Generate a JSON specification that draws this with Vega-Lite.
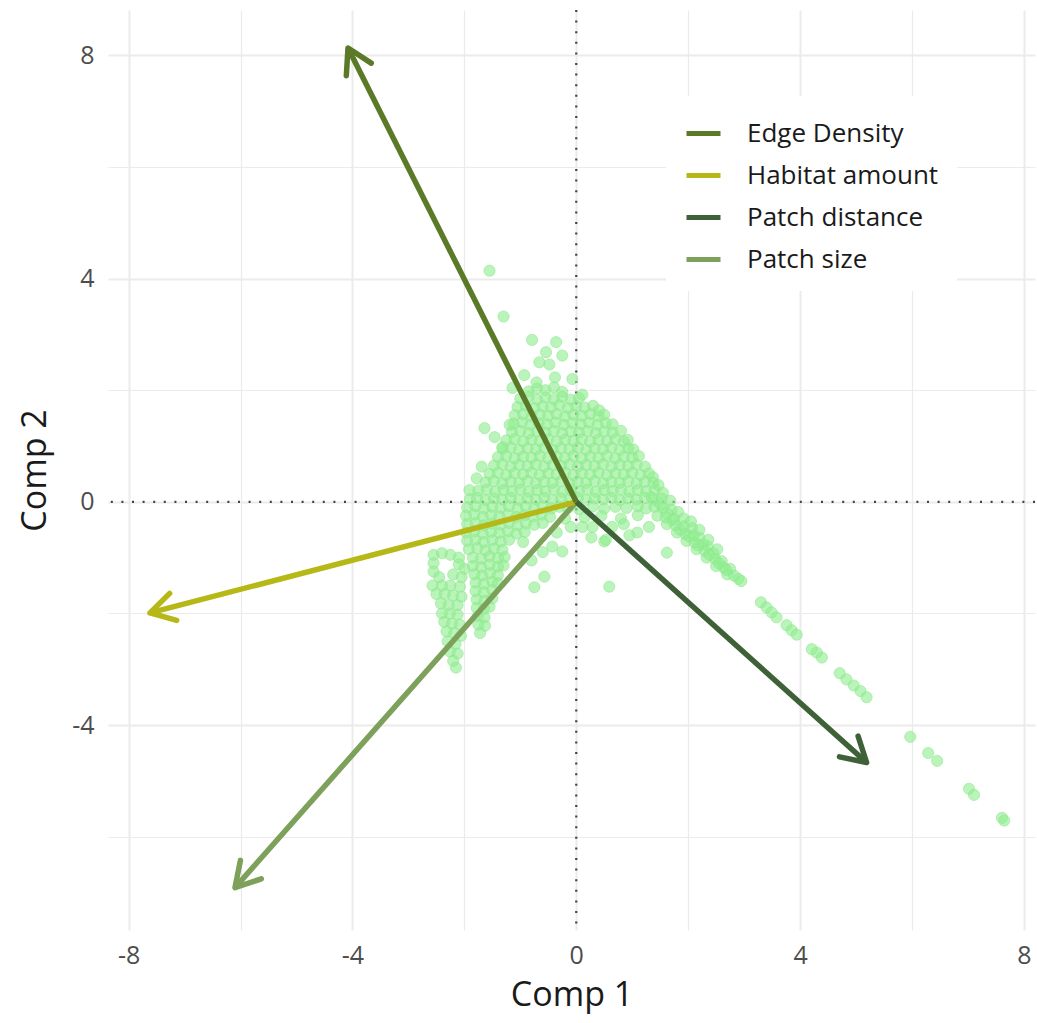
{
  "$schema": "https://vega.github.io/schema/vega-lite/v6.json",
  "autosize": "none",
  "width": 927,
  "height": 920,
  "padding": {"left": 108, "top": 10, "right": 2, "bottom": 93},
  "background": "white",
  "config": {
    "view": {"stroke": null},
    "font": "Open Sans"
  },
  "datasets": {
    "scores": [
      {"pc1":-0.85,"pc2":1.98},{"pc1":-0.7,"pc2":2.03},{"pc1":-0.55,"pc2":2.0},{"pc1":-0.4,"pc2":2.05},{"pc1":-0.25,"pc2":1.97},
      {"pc1":-1.0,"pc2":1.85},{"pc1":-0.85,"pc2":1.88},{"pc1":-0.7,"pc2":1.83},{"pc1":-0.55,"pc2":1.87},{"pc1":-0.4,"pc2":1.84},{"pc1":-0.25,"pc2":1.88},{"pc1":-0.1,"pc2":1.83},{"pc1":0.05,"pc2":1.86},
      {"pc1":-1.05,"pc2":1.7},{"pc1":-0.9,"pc2":1.72},{"pc1":-0.75,"pc2":1.68},{"pc1":-0.6,"pc2":1.71},{"pc1":-0.45,"pc2":1.69},{"pc1":-0.3,"pc2":1.73},{"pc1":-0.15,"pc2":1.68},{"pc1":0.0,"pc2":1.71},{"pc1":0.15,"pc2":1.69},{"pc1":0.3,"pc2":1.72},
      {"pc1":-1.1,"pc2":1.55},{"pc1":-0.95,"pc2":1.57},{"pc1":-0.8,"pc2":1.53},{"pc1":-0.65,"pc2":1.56},{"pc1":-0.5,"pc2":1.54},{"pc1":-0.35,"pc2":1.57},{"pc1":-0.2,"pc2":1.53},{"pc1":-0.05,"pc2":1.56},{"pc1":0.1,"pc2":1.54},{"pc1":0.25,"pc2":1.57},{"pc1":0.4,"pc2":1.53},{"pc1":0.5,"pc2":1.56},
      {"pc1":-1.12,"pc2":1.4},{"pc1":-0.97,"pc2":1.42},{"pc1":-0.82,"pc2":1.38},{"pc1":-0.67,"pc2":1.41},{"pc1":-0.52,"pc2":1.39},{"pc1":-0.37,"pc2":1.42},{"pc1":-0.22,"pc2":1.38},{"pc1":-0.07,"pc2":1.41},{"pc1":0.08,"pc2":1.39},{"pc1":0.23,"pc2":1.42},{"pc1":0.38,"pc2":1.38},{"pc1":0.53,"pc2":1.41},{"pc1":0.65,"pc2":1.39},
      {"pc1":-1.15,"pc2":1.25},{"pc1":-1.0,"pc2":1.27},{"pc1":-0.85,"pc2":1.23},{"pc1":-0.7,"pc2":1.26},{"pc1":-0.55,"pc2":1.24},{"pc1":-0.4,"pc2":1.27},{"pc1":-0.25,"pc2":1.23},{"pc1":-0.1,"pc2":1.26},{"pc1":0.05,"pc2":1.24},{"pc1":0.2,"pc2":1.27},{"pc1":0.35,"pc2":1.23},{"pc1":0.5,"pc2":1.26},{"pc1":0.65,"pc2":1.24},{"pc1":0.8,"pc2":1.27},
      {"pc1":-1.25,"pc2":1.1},{"pc1":-1.1,"pc2":1.12},{"pc1":-0.95,"pc2":1.08},{"pc1":-0.8,"pc2":1.11},{"pc1":-0.65,"pc2":1.09},{"pc1":-0.5,"pc2":1.12},{"pc1":-0.35,"pc2":1.08},{"pc1":-0.2,"pc2":1.11},{"pc1":-0.05,"pc2":1.09},{"pc1":0.1,"pc2":1.12},{"pc1":0.25,"pc2":1.08},{"pc1":0.4,"pc2":1.11},{"pc1":0.55,"pc2":1.09},{"pc1":0.7,"pc2":1.12},{"pc1":0.85,"pc2":1.08},{"pc1":0.92,"pc2":1.11},
      {"pc1":-1.32,"pc2":0.95},{"pc1":-1.17,"pc2":0.97},{"pc1":-1.02,"pc2":0.93},{"pc1":-0.87,"pc2":0.96},{"pc1":-0.72,"pc2":0.94},{"pc1":-0.57,"pc2":0.97},{"pc1":-0.42,"pc2":0.93},{"pc1":-0.27,"pc2":0.96},{"pc1":-0.12,"pc2":0.94},{"pc1":0.03,"pc2":0.97},{"pc1":0.18,"pc2":0.93},{"pc1":0.33,"pc2":0.96},{"pc1":0.48,"pc2":0.94},{"pc1":0.63,"pc2":0.97},{"pc1":0.78,"pc2":0.93},{"pc1":0.93,"pc2":0.96},{"pc1":1.02,"pc2":0.94},
      {"pc1":-1.4,"pc2":0.8},{"pc1":-1.25,"pc2":0.82},{"pc1":-1.1,"pc2":0.78},{"pc1":-0.95,"pc2":0.81},{"pc1":-0.8,"pc2":0.79},{"pc1":-0.65,"pc2":0.82},{"pc1":-0.5,"pc2":0.78},{"pc1":-0.35,"pc2":0.81},{"pc1":-0.2,"pc2":0.79},{"pc1":-0.05,"pc2":0.82},{"pc1":0.1,"pc2":0.78},{"pc1":0.25,"pc2":0.81},{"pc1":0.4,"pc2":0.79},{"pc1":0.55,"pc2":0.82},{"pc1":0.7,"pc2":0.78},{"pc1":0.85,"pc2":0.81},{"pc1":1.0,"pc2":0.79},{"pc1":1.12,"pc2":0.82},
      {"pc1":-1.47,"pc2":0.65},{"pc1":-1.32,"pc2":0.67},{"pc1":-1.17,"pc2":0.63},{"pc1":-1.02,"pc2":0.66},{"pc1":-0.87,"pc2":0.64},{"pc1":-0.72,"pc2":0.67},{"pc1":-0.57,"pc2":0.63},{"pc1":-0.42,"pc2":0.66},{"pc1":-0.27,"pc2":0.64},{"pc1":-0.12,"pc2":0.67},{"pc1":0.03,"pc2":0.63},{"pc1":0.18,"pc2":0.66},{"pc1":0.33,"pc2":0.64},{"pc1":0.48,"pc2":0.67},{"pc1":0.63,"pc2":0.63},{"pc1":0.78,"pc2":0.66},{"pc1":0.93,"pc2":0.64},{"pc1":1.08,"pc2":0.67},{"pc1":1.23,"pc2":0.63},
      {"pc1":-1.55,"pc2":0.5},{"pc1":-1.4,"pc2":0.52},{"pc1":-1.25,"pc2":0.48},{"pc1":-1.1,"pc2":0.51},{"pc1":-0.95,"pc2":0.49},{"pc1":-0.8,"pc2":0.52},{"pc1":-0.65,"pc2":0.48},{"pc1":-0.5,"pc2":0.51},{"pc1":-0.35,"pc2":0.49},{"pc1":-0.2,"pc2":0.52},{"pc1":-0.05,"pc2":0.48},{"pc1":0.1,"pc2":0.51},{"pc1":0.25,"pc2":0.49},{"pc1":0.4,"pc2":0.52},{"pc1":0.55,"pc2":0.48},{"pc1":0.7,"pc2":0.51},{"pc1":0.85,"pc2":0.49},{"pc1":1.0,"pc2":0.52},{"pc1":1.15,"pc2":0.48},{"pc1":1.3,"pc2":0.51},{"pc1":1.37,"pc2":0.44},
      {"pc1":-1.62,"pc2":0.35},{"pc1":-1.47,"pc2":0.37},{"pc1":-1.32,"pc2":0.33},{"pc1":-1.17,"pc2":0.36},{"pc1":-1.02,"pc2":0.34},{"pc1":-0.87,"pc2":0.37},{"pc1":-0.72,"pc2":0.33},{"pc1":-0.57,"pc2":0.36},{"pc1":-0.42,"pc2":0.34},{"pc1":-0.27,"pc2":0.37},{"pc1":-0.12,"pc2":0.33},{"pc1":0.03,"pc2":0.36},{"pc1":0.18,"pc2":0.34},{"pc1":0.33,"pc2":0.37},{"pc1":0.48,"pc2":0.33},{"pc1":0.63,"pc2":0.36},{"pc1":0.78,"pc2":0.34},{"pc1":0.93,"pc2":0.37},{"pc1":1.08,"pc2":0.33},{"pc1":1.23,"pc2":0.36},{"pc1":1.38,"pc2":0.34},{"pc1":1.47,"pc2":0.3},
      {"pc1":-1.75,"pc2":0.2},{"pc1":-1.6,"pc2":0.22},{"pc1":-1.45,"pc2":0.18},{"pc1":-1.3,"pc2":0.21},{"pc1":-1.15,"pc2":0.19},{"pc1":-1.0,"pc2":0.22},{"pc1":-0.85,"pc2":0.18},{"pc1":-0.7,"pc2":0.21},{"pc1":-0.55,"pc2":0.19},{"pc1":-0.4,"pc2":0.22},{"pc1":-0.25,"pc2":0.18},{"pc1":-0.1,"pc2":0.21},{"pc1":0.05,"pc2":0.19},{"pc1":0.2,"pc2":0.22},{"pc1":0.35,"pc2":0.18},{"pc1":0.5,"pc2":0.21},{"pc1":0.65,"pc2":0.19},{"pc1":0.8,"pc2":0.22},{"pc1":0.95,"pc2":0.18},{"pc1":1.1,"pc2":0.21},{"pc1":1.25,"pc2":0.19},{"pc1":1.4,"pc2":0.22},{"pc1":1.55,"pc2":0.16},
      {"pc1":-1.9,"pc2":0.05},{"pc1":-1.77,"pc2":0.07},{"pc1":-1.62,"pc2":0.03},{"pc1":-1.47,"pc2":0.06},{"pc1":-1.32,"pc2":0.04},{"pc1":-1.17,"pc2":0.07},{"pc1":-1.02,"pc2":0.03},{"pc1":-0.87,"pc2":0.06},{"pc1":-0.72,"pc2":0.04},{"pc1":-0.57,"pc2":0.07},{"pc1":-0.42,"pc2":0.03},{"pc1":-0.27,"pc2":0.06},{"pc1":-0.12,"pc2":0.04},{"pc1":0.03,"pc2":0.07},{"pc1":0.18,"pc2":0.03},{"pc1":0.33,"pc2":0.06},{"pc1":0.48,"pc2":0.04},{"pc1":0.63,"pc2":0.07},{"pc1":0.78,"pc2":0.03},{"pc1":0.93,"pc2":0.06},{"pc1":1.08,"pc2":0.04},{"pc1":1.23,"pc2":0.07},{"pc1":1.38,"pc2":0.03},{"pc1":1.53,"pc2":0.06},{"pc1":1.68,"pc2":0.02},
      {"pc1":-1.95,"pc2":-0.1},{"pc1":-1.8,"pc2":-0.08},{"pc1":-1.65,"pc2":-0.12},{"pc1":-1.5,"pc2":-0.09},{"pc1":-1.35,"pc2":-0.11},{"pc1":-1.2,"pc2":-0.08},{"pc1":-1.05,"pc2":-0.12},{"pc1":-0.9,"pc2":-0.09},{"pc1":-0.75,"pc2":-0.11},{"pc1":-0.6,"pc2":-0.08},{"pc1":-0.45,"pc2":-0.12},{"pc1":-0.3,"pc2":-0.09},{"pc1":-0.15,"pc2":-0.11},{"pc1":0.05,"pc2":-0.13},{"pc1":0.3,"pc2":-0.08},{"pc1":0.5,"pc2":-0.12},{"pc1":0.7,"pc2":-0.09},{"pc1":0.9,"pc2":-0.11},{"pc1":1.1,"pc2":-0.08},{"pc1":1.25,"pc2":-0.12},{"pc1":1.4,"pc2":-0.09},{"pc1":1.55,"pc2":-0.11},{"pc1":1.7,"pc2":-0.14},{"pc1":1.82,"pc2":-0.18},
      {"pc1":-1.97,"pc2":-0.25},{"pc1":-1.82,"pc2":-0.23},{"pc1":-1.67,"pc2":-0.27},{"pc1":-1.52,"pc2":-0.24},{"pc1":-1.37,"pc2":-0.26},{"pc1":-1.22,"pc2":-0.23},{"pc1":-1.07,"pc2":-0.27},{"pc1":-0.92,"pc2":-0.24},{"pc1":-0.77,"pc2":-0.26},{"pc1":-0.62,"pc2":-0.23},{"pc1":-0.47,"pc2":-0.27},{"pc1":-0.2,"pc2":-0.3},{"pc1":0.15,"pc2":-0.28},{"pc1":0.45,"pc2":-0.25},{"pc1":0.8,"pc2":-0.3},{"pc1":1.1,"pc2":-0.24},{"pc1":1.45,"pc2":-0.25},{"pc1":1.6,"pc2":-0.28},{"pc1":1.75,"pc2":-0.3},{"pc1":1.92,"pc2":-0.3},
      {"pc1":-1.95,"pc2":-0.4},{"pc1":-1.8,"pc2":-0.38},{"pc1":-1.65,"pc2":-0.42},{"pc1":-1.5,"pc2":-0.39},{"pc1":-1.35,"pc2":-0.41},{"pc1":-1.2,"pc2":-0.38},{"pc1":-1.05,"pc2":-0.42},{"pc1":-0.9,"pc2":-0.39},{"pc1":-0.75,"pc2":-0.41},{"pc1":-0.6,"pc2":-0.38},{"pc1":1.62,"pc2":-0.4},{"pc1":1.77,"pc2":-0.42},{"pc1":1.92,"pc2":-0.44},{"pc1":2.07,"pc2":-0.47},
      {"pc1":-1.97,"pc2":-0.55},{"pc1":-1.82,"pc2":-0.53},{"pc1":-1.67,"pc2":-0.57},{"pc1":-1.52,"pc2":-0.54},{"pc1":-1.37,"pc2":-0.56},{"pc1":-1.22,"pc2":-0.53},{"pc1":-1.07,"pc2":-0.57},{"pc1":-0.92,"pc2":-0.54},{"pc1":1.8,"pc2":-0.55},{"pc1":1.95,"pc2":-0.58},{"pc1":2.1,"pc2":-0.6},{"pc1":2.2,"pc2":-0.64},
      {"pc1":-1.95,"pc2":-0.7},{"pc1":-1.8,"pc2":-0.68},{"pc1":-1.65,"pc2":-0.72},{"pc1":-1.5,"pc2":-0.69},{"pc1":-1.35,"pc2":-0.71},{"pc1":-1.2,"pc2":-0.68},{"pc1":-0.95,"pc2":-0.72},{"pc1":1.97,"pc2":-0.7},{"pc1":2.12,"pc2":-0.73},{"pc1":2.27,"pc2":-0.76},{"pc1":2.35,"pc2":-0.8},
      {"pc1":-1.92,"pc2":-0.85},{"pc1":-1.77,"pc2":-0.83},{"pc1":-1.62,"pc2":-0.87},{"pc1":-1.47,"pc2":-0.84},{"pc1":-1.32,"pc2":-0.86},{"pc1":2.15,"pc2":-0.85},{"pc1":2.3,"pc2":-0.88},{"pc1":2.45,"pc2":-0.92},
      {"pc1":2.33,"pc2":-1.0},{"pc1":2.48,"pc2":-1.02},{"pc1":2.6,"pc2":-1.06},{"pc1":2.5,"pc2":-1.15},{"pc1":2.63,"pc2":-1.17},{"pc1":2.75,"pc2":-1.2},{"pc1":2.7,"pc2":-1.3},{"pc1":2.82,"pc2":-1.32},{"pc1":2.9,"pc2":-1.38},{"pc1":2.95,"pc2":-1.42},
      {"pc1":1.35,"pc2":0.08},{"pc1":1.5,"pc2":-0.04},{"pc1":1.62,"pc2":-0.2},{"pc1":1.72,"pc2":-0.33},{"pc1":1.86,"pc2":-0.5},{"pc1":2.02,"pc2":-0.62},{"pc1":2.18,"pc2":-0.78},{"pc1":2.38,"pc2":-0.95},{"pc1":2.55,"pc2":-1.1},{"pc1":2.68,"pc2":-1.22},{"pc1":2.05,"pc2":-0.35},{"pc1":2.2,"pc2":-0.5},{"pc1":2.36,"pc2":-0.68},{"pc1":2.52,"pc2":-0.85},
      {"pc1":-2.55,"pc2":-0.95},{"pc1":-2.4,"pc2":-0.92},{"pc1":-2.25,"pc2":-0.95},{"pc1":-2.1,"pc2":-1.0},
      {"pc1":-2.55,"pc2":-1.1},{"pc1":-2.1,"pc2":-1.12},{"pc1":-2.0,"pc2":-1.2},
      {"pc1":-2.55,"pc2":-1.25},{"pc1":-2.45,"pc2":-1.35},{"pc1":-2.2,"pc2":-1.3},{"pc1":-2.05,"pc2":-1.35},
      {"pc1":-2.57,"pc2":-1.5},{"pc1":-2.4,"pc2":-1.5},{"pc1":-2.25,"pc2":-1.5},{"pc1":-2.08,"pc2":-1.52},
      {"pc1":-2.5,"pc2":-1.65},{"pc1":-2.35,"pc2":-1.65},{"pc1":-2.2,"pc2":-1.68},{"pc1":-2.05,"pc2":-1.7},
      {"pc1":-2.42,"pc2":-1.82},{"pc1":-2.28,"pc2":-1.85},{"pc1":-2.12,"pc2":-1.85},
      {"pc1":-2.4,"pc2":-2.0},{"pc1":-2.26,"pc2":-2.0},{"pc1":-2.12,"pc2":-2.02},
      {"pc1":-2.36,"pc2":-2.15},{"pc1":-2.22,"pc2":-2.18},{"pc1":-2.08,"pc2":-2.2},
      {"pc1":-2.32,"pc2":-2.32},{"pc1":-2.18,"pc2":-2.35},{"pc1":-2.06,"pc2":-2.4},
      {"pc1":-2.3,"pc2":-2.5},{"pc1":-2.16,"pc2":-2.55},
      {"pc1":-2.26,"pc2":-2.68},{"pc1":-2.12,"pc2":-2.72},{"pc1":-2.2,"pc2":-2.85},{"pc1":-2.15,"pc2":-2.97},
      {"pc1":-1.85,"pc2":-1.0},{"pc1":-1.7,"pc2":-1.02},{"pc1":-1.55,"pc2":-0.98},{"pc1":-1.4,"pc2":-1.01},{"pc1":-1.28,"pc2":-0.99},
      {"pc1":-1.85,"pc2":-1.15},{"pc1":-1.7,"pc2":-1.17},{"pc1":-1.55,"pc2":-1.13},{"pc1":-1.4,"pc2":-1.16},{"pc1":-1.3,"pc2":-1.14},
      {"pc1":-1.82,"pc2":-1.3},{"pc1":-1.68,"pc2":-1.32},{"pc1":-1.54,"pc2":-1.28},{"pc1":-1.4,"pc2":-1.31},
      {"pc1":-1.8,"pc2":-1.45},{"pc1":-1.65,"pc2":-1.47},{"pc1":-1.5,"pc2":-1.43},{"pc1":-1.4,"pc2":-1.46},
      {"pc1":-1.8,"pc2":-1.6},{"pc1":-1.65,"pc2":-1.62},{"pc1":-1.5,"pc2":-1.58},
      {"pc1":-1.78,"pc2":-1.75},{"pc1":-1.64,"pc2":-1.77},{"pc1":-1.5,"pc2":-1.73},
      {"pc1":-1.78,"pc2":-1.9},{"pc1":-1.65,"pc2":-1.92},{"pc1":-1.55,"pc2":-1.88},
      {"pc1":-1.76,"pc2":-2.05},{"pc1":-1.64,"pc2":-2.07},
      {"pc1":-1.75,"pc2":-2.2},{"pc1":-1.63,"pc2":-2.22},
      {"pc1":-1.72,"pc2":-2.35},
      {"pc1":-1.55,"pc2":4.14},{"pc1":-1.3,"pc2":3.32},{"pc1":-0.79,"pc2":2.9},{"pc1":-0.36,"pc2":2.86},{"pc1":-0.54,"pc2":2.68},{"pc1":-0.25,"pc2":2.62},{"pc1":-0.66,"pc2":2.5},{"pc1":-0.48,"pc2":2.46},{"pc1":-0.93,"pc2":2.27},{"pc1":-0.38,"pc2":2.23},{"pc1":-0.71,"pc2":2.14},{"pc1":-1.14,"pc2":2.04},{"pc1":-0.07,"pc2":2.2},{"pc1":0.11,"pc2":1.92},{"pc1":0.41,"pc2":1.64},{"pc1":-1.64,"pc2":1.32},{"pc1":-1.46,"pc2":1.16},{"pc1":-1.69,"pc2":0.63},{"pc1":-1.91,"pc2":0.21},{"pc1":-1.32,"pc2":0.98},{"pc1":-1.19,"pc2":1.38},{"pc1":-1.78,"pc2":0.42},
      {"pc1":0.11,"pc2":-0.45},{"pc1":0.27,"pc2":-0.64},{"pc1":0.5,"pc2":-0.71},{"pc1":0.29,"pc2":-0.45},{"pc1":-0.43,"pc2":-0.8},{"pc1":-0.25,"pc2":-0.89},{"pc1":-0.57,"pc2":-1.34},{"pc1":-0.75,"pc2":-1.53},{"pc1":0.59,"pc2":-1.52},{"pc1":0.64,"pc2":-0.45},{"pc1":0.85,"pc2":-0.4},{"pc1":1.09,"pc2":-0.55},{"pc1":1.62,"pc2":-0.91},{"pc1":0.53,"pc2":-0.68},{"pc1":-0.1,"pc2":-0.45},{"pc1":0.95,"pc2":-0.6},{"pc1":1.3,"pc2":-0.45},{"pc1":-0.6,"pc2":-0.9},{"pc1":-0.8,"pc2":-1.05},{"pc1":-0.35,"pc2":-0.55},
      {"pc1":3.3,"pc2":-1.8},{"pc1":3.4,"pc2":-1.89},{"pc1":3.49,"pc2":-1.98},{"pc1":3.58,"pc2":-2.07},{"pc1":3.76,"pc2":-2.21},{"pc1":3.85,"pc2":-2.3},{"pc1":3.94,"pc2":-2.38},{"pc1":4.21,"pc2":-2.64},{"pc1":4.3,"pc2":-2.7},{"pc1":4.39,"pc2":-2.79},{"pc1":4.71,"pc2":-3.07},{"pc1":4.83,"pc2":-3.18},{"pc1":4.96,"pc2":-3.29},{"pc1":5.08,"pc2":-3.39},{"pc1":5.19,"pc2":-3.5},{"pc1":5.97,"pc2":-4.21},{"pc1":6.29,"pc2":-4.5},{"pc1":6.45,"pc2":-4.64},{"pc1":7.02,"pc2":-5.14},{"pc1":7.11,"pc2":-5.25},{"pc1":7.61,"pc2":-5.66},{"pc1":7.65,"pc2":-5.71}
    ],
    "loadings": [
      {"variable":"Patch size","pc1":-6.1,"pc2":-6.91},
      {"variable":"Habitat amount","pc1":-7.62,"pc2":-1.99},
      {"variable":"Patch distance","pc1":5.19,"pc2":-4.67},
      {"variable":"Edge Density","pc1":-4.08,"pc2":8.13}
    ],
    "origin": [{"pc1": 0, "pc2": 0}]
  },
  "layer": [
    {
      "data": {"name": "origin"},
      "mark": {"type": "rule", "color": "#444444", "strokeWidth": 2.2, "strokeDash": [2, 8.6]},
      "encoding": {
        "x": {
          "field": "pc1", "type": "quantitative",
          "scale": {"domain": [-8.37, 8.2], "nice": false, "zero": false},
          "axis": {
            "title": "Comp 1",
            "values": [-8, -6, -4, -2, 0, 2, 4, 6, 8],
            "labelExpr": "datum.value % 4 === 0 ? (datum.value < 0 ? '-' + abs(datum.value) : '' + datum.value) : ''",
            "domain": false, "ticks": false,
            "gridColor": "#ebebeb",
            "gridWidth": {"condition": {"test": "datum.value % 4 === 0", "value": 2}, "value": 1.2},
            "labelFontSize": 25, "labelColor": "#4d4d4d", "labelPadding": 13,
            "titleFontSize": 34, "titleFontWeight": "normal", "titleColor": "#1a1a1a", "titlePadding": 10
          }
        }
      }
    },
    {
      "data": {"name": "origin"},
      "mark": {"type": "rule", "color": "#444444", "strokeWidth": 2.2, "strokeDash": [2, 8.6]},
      "encoding": {
        "y": {
          "field": "pc2", "type": "quantitative",
          "scale": {"domain": [-7.67, 8.81], "nice": false, "zero": false},
          "axis": {
            "title": "Comp 2",
            "values": [-8, -6, -4, -2, 0, 2, 4, 6, 8],
            "labelExpr": "datum.value % 4 === 0 ? (datum.value < 0 ? '-' + abs(datum.value) : '' + datum.value) : ''",
            "domain": false, "ticks": false,
            "gridColor": "#ebebeb",
            "gridWidth": {"condition": {"test": "datum.value % 4 === 0", "value": 2}, "value": 1.2},
            "labelFontSize": 25, "labelColor": "#4d4d4d", "labelPadding": 14,
            "titleFontSize": 34, "titleFontWeight": "normal", "titleColor": "#1a1a1a",
            "titleX": -73, "titleY": 460, "titleAngle": 270, "titleAlign": "center", "titleBaseline": "middle"
          }
        }
      }
    },
    {
      "data": {"name": "scores"},
      "mark": {"type": "point", "shape": "circle", "filled": true, "size": 125, "fill": "#90ee90", "fillOpacity": 0.62, "stroke": "#8ae88a", "strokeOpacity": 0.55, "strokeWidth": 1},
      "encoding": {
        "x": {"field": "pc1", "type": "quantitative"},
        "y": {"field": "pc2", "type": "quantitative"}
      }
    },
    {
      "data": {"name": "loadings"},
      "mark": {"type": "rule", "strokeWidth": 5.5},
      "encoding": {
        "x": {"field": "pc1", "type": "quantitative"},
        "y": {"field": "pc2", "type": "quantitative"},
        "x2": {"datum": 0},
        "y2": {"datum": 0},
        "color": {
          "field": "variable", "type": "nominal",
          "scale": {"domain": ["Edge Density", "Habitat amount", "Patch distance", "Patch size"], "range": ["#5b7a28", "#b5b816", "#3e6137", "#7da05a"]},
          "legend": {
            "title": null, "orient": "none", "legendX": 558, "legendY": 86,
            "symbolType": "stroke", "symbolSize": 1156, "symbolStrokeWidth": 5,
            "labelFontSize": 26, "labelColor": "#1a1a1a", "labelOffset": 24, "labelLimit": 0,
            "fillColor": "white", "padding": 18, "rowPadding": 9
          }
        }
      }
    },
    {
      "data": {"name": "loadings"},
      "transform": [{"calculate": "atan2(-datum.pc2, datum.pc1) * 180 / PI", "as": "heading"}],
      "mark": {"type": "point", "shape": "M-1,-0.58L0,0L-1,0.58", "filled": false, "size": 2304, "strokeWidth": 5.5, "strokeCap": "round", "strokeJoin": "round", "opacity": 1},
      "encoding": {
        "x": {"field": "pc1", "type": "quantitative"},
        "y": {"field": "pc2", "type": "quantitative"},
        "angle": {"field": "heading", "type": "quantitative", "scale": null},
        "stroke": {
          "field": "variable", "type": "nominal",
          "scale": {"domain": ["Edge Density", "Habitat amount", "Patch distance", "Patch size"], "range": ["#5b7a28", "#b5b816", "#3e6137", "#7da05a"]},
          "legend": null
        }
      }
    }
  ]
}
